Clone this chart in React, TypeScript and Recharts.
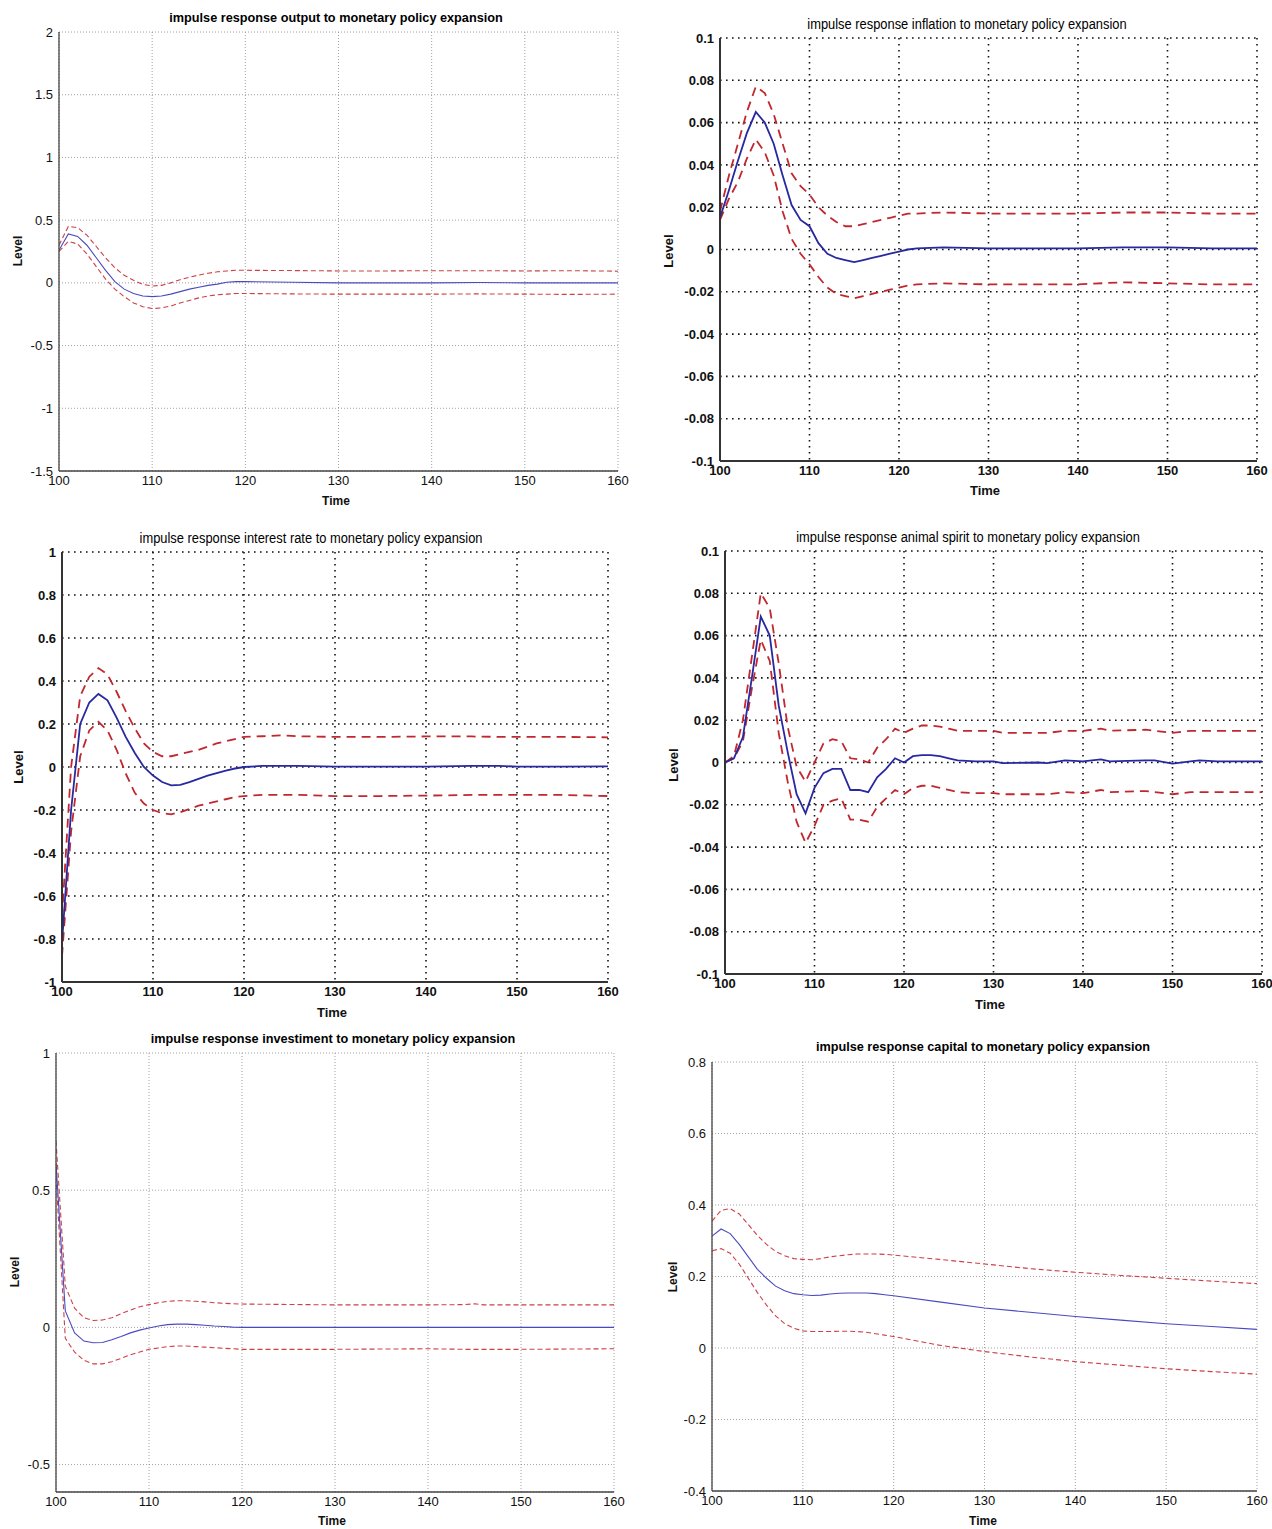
import React from 'react';
import { LineChart, Line, XAxis, YAxis, CartesianGrid } from 'recharts';

const xTicks = [100, 110, 120, 130, 140, 150, 160];

// Panel 1: output
const outputX = [100,101,102,103,104,105,106,107,108,109,110,111,112,113,114,115,116,117,118,119,120,125,130,135,140,145,150,155,160];
const outputMid = [0.26,0.39,0.37,0.30,0.20,0.10,0.01,-0.05,-0.085,-0.105,-0.11,-0.105,-0.09,-0.07,-0.05,-0.035,-0.02,-0.01,0.005,0.01,0.01,0.005,0,0,0,0.003,0,0,0];
const outputHi = [0.30,0.45,0.44,0.38,0.29,0.20,0.12,0.06,0.02,-0.012,-0.025,-0.02,0.0,0.025,0.045,0.062,0.077,0.088,0.095,0.1,0.1,0.098,0.095,0.095,0.097,0.097,0.095,0.097,0.093];
const outputLo = [0.25,0.33,0.31,0.23,0.13,0.03,-0.05,-0.11,-0.16,-0.19,-0.205,-0.2,-0.185,-0.16,-0.14,-0.12,-0.105,-0.095,-0.09,-0.085,-0.085,-0.088,-0.09,-0.09,-0.09,-0.088,-0.09,-0.092,-0.09];
const outputYTicks = [-1.5, -1, -0.5, 0, 0.5, 1, 1.5, 2];

// Panel 2: inflation
const inflX = [100,101,102,103,104,105,106,107,108,109,110,111,112,113,114,115,116,117,118,119,120,121,122,125,130,135,140,145,150,155,160];
const inflMid = [0.015,0.028,0.042,0.055,0.065,0.06,0.05,0.035,0.021,0.014,0.011,0.003,-0.002,-0.004,-0.005,-0.006,-0.005,-0.004,-0.003,-0.002,-0.001,0.0,0.0005,0.001,0.0005,0.0005,0.0005,0.001,0.001,0.0005,0.0005];
const inflHi = [0.018,0.035,0.05,0.065,0.077,0.074,0.064,0.05,0.036,0.03,0.026,0.02,0.016,0.013,0.011,0.011,0.012,0.013,0.014,0.015,0.016,0.017,0.017,0.0175,0.017,0.017,0.017,0.0175,0.0175,0.017,0.017];
const inflLo = [0.014,0.024,0.032,0.043,0.052,0.046,0.035,0.018,0.005,-0.002,-0.007,-0.013,-0.018,-0.021,-0.022,-0.023,-0.022,-0.021,-0.02,-0.019,-0.018,-0.017,-0.0165,-0.016,-0.0165,-0.0165,-0.0165,-0.0155,-0.016,-0.0165,-0.0165];
const inflYTicks = [-0.1, -0.08, -0.06, -0.04, -0.02, 0, 0.02, 0.04, 0.06, 0.08, 0.1];

// Panel 3: interest rate
const rateX = [100,101,102,103,104,105,106,107,108,109,110,111,112,113,114,115,116,117,118,119,120,122,124,126,130,135,140,145,148,150,155,160];
const rateMid = [-0.82,-0.2,0.2,0.3,0.34,0.31,0.23,0.14,0.065,0.0,-0.04,-0.07,-0.085,-0.083,-0.07,-0.055,-0.04,-0.028,-0.017,-0.007,0.0,0.005,0.005,0.005,0.002,0.002,0.002,0.005,0.005,0.002,0.002,0.003];
const rateHi = [-0.7,0.0,0.33,0.42,0.46,0.43,0.35,0.26,0.18,0.11,0.07,0.05,0.05,0.06,0.07,0.08,0.095,0.11,0.12,0.13,0.14,0.143,0.147,0.143,0.14,0.14,0.142,0.142,0.14,0.14,0.14,0.138];
const rateLo = [-0.88,-0.3,0.05,0.17,0.21,0.17,0.08,-0.03,-0.12,-0.17,-0.2,-0.215,-0.22,-0.21,-0.195,-0.18,-0.17,-0.16,-0.15,-0.14,-0.135,-0.13,-0.13,-0.13,-0.135,-0.135,-0.133,-0.13,-0.13,-0.13,-0.13,-0.135];
const rateYTicks = [-1, -0.8, -0.6, -0.4, -0.2, 0, 0.2, 0.4, 0.6, 0.8, 1];

// Panel 4: animal spirit
const spiritX = [100,101,102,103,104,105,106,107,108,109,110,111,112,113,114,115,116,117,118,119,120,121,122,123,124,125,126,128,130,131,135,136,138,140,142,143,147,148,150,152,153,155,160];
const spiritMid = [0.0,0.002,0.012,0.04,0.069,0.06,0.027,0.005,-0.015,-0.024,-0.012,-0.005,-0.003,-0.003,-0.013,-0.013,-0.014,-0.007,-0.003,0.002,0.0,0.003,0.0035,0.0035,0.003,0.002,0.001,0.0005,0.0005,-0.0003,0.0,-0.0003,0.001,0.0005,0.0015,0.0005,0.001,0.001,-0.0005,0.0005,0.001,0.0005,0.0005];
const spiritHi = [0.0,0.003,0.02,0.05,0.08,0.073,0.047,0.017,-0.002,-0.009,0.0,0.009,0.011,0.01,0.002,0.0015,0.0,0.007,0.011,0.016,0.014,0.016,0.0175,0.0175,0.017,0.016,0.015,0.015,0.015,0.014,0.014,0.014,0.015,0.015,0.016,0.015,0.0155,0.015,0.014,0.015,0.015,0.015,0.015];
const spiritLo = [0.0,0.002,0.01,0.035,0.058,0.048,0.014,-0.009,-0.028,-0.038,-0.03,-0.02,-0.018,-0.017,-0.027,-0.027,-0.028,-0.021,-0.017,-0.013,-0.015,-0.012,-0.011,-0.011,-0.012,-0.013,-0.014,-0.0145,-0.0145,-0.015,-0.015,-0.015,-0.014,-0.0145,-0.013,-0.014,-0.0135,-0.014,-0.015,-0.014,-0.014,-0.014,-0.014];
const spiritYTicks = [-0.1, -0.08, -0.06, -0.04, -0.02, 0, 0.02, 0.04, 0.06, 0.08, 0.1];

// Panel 5: investment
const investX = [100,101,102,103,104,105,106,107,108,109,110,111,112,113,114,115,116,117,118,119,120,130,140,144,145,146,150,160];
const investMid = [0.6,0.06,-0.02,-0.05,-0.056,-0.055,-0.045,-0.033,-0.02,-0.01,-0.002,0.005,0.01,0.012,0.012,0.01,0.008,0.005,0.003,0.001,0.0,0,0,0,0,0,0,0];
const investHi = [0.68,0.15,0.07,0.035,0.025,0.027,0.035,0.05,0.063,0.075,0.083,0.09,0.095,0.097,0.097,0.095,0.093,0.09,0.088,0.086,0.085,0.082,0.082,0.083,0.086,0.082,0.082,0.082];
const investLo = [0.55,-0.04,-0.09,-0.12,-0.133,-0.133,-0.125,-0.113,-0.1,-0.09,-0.08,-0.075,-0.07,-0.068,-0.068,-0.07,-0.072,-0.074,-0.076,-0.078,-0.08,-0.08,-0.078,-0.08,-0.08,-0.08,-0.08,-0.078];
const investYTicks = [-0.5, 0, 0.5, 1];

// Panel 6: capital
const capX = [100,101,102,103,104,105,106,107,108,109,110,111,112,113,114,115,116,117,118,119,120,125,130,135,140,145,150,155,160];
const capMid = [0.313,0.333,0.32,0.29,0.255,0.22,0.195,0.173,0.16,0.152,0.149,0.147,0.148,0.151,0.153,0.154,0.154,0.154,0.152,0.149,0.146,0.129,0.112,0.1,0.088,0.078,0.068,0.06,0.052];
const capHi = [0.355,0.385,0.39,0.375,0.345,0.315,0.29,0.27,0.258,0.25,0.248,0.247,0.25,0.255,0.258,0.261,0.263,0.263,0.263,0.262,0.26,0.248,0.235,0.222,0.212,0.203,0.195,0.187,0.18];
const capLo = [0.272,0.278,0.265,0.235,0.195,0.155,0.12,0.09,0.068,0.055,0.048,0.046,0.046,0.046,0.047,0.047,0.046,0.044,0.04,0.036,0.032,0.008,-0.01,-0.025,-0.038,-0.048,-0.058,-0.066,-0.073];
const capYTicks = [-0.4, -0.2, 0, 0.2, 0.4, 0.6, 0.8];

type Row = { x: number; mid: number; hi: number; lo: number };
const build = (x: number[], mid: number[], hi: number[], lo: number[]): Row[] =>
  x.map((v, i) => ({ x: v, mid: mid[i], hi: hi[i], lo: lo[i] }));

const SANS = '"Liberation Sans", Arial, Helvetica, sans-serif';

const STYLES: Record<string, any> = {
  thin: {
    tickSize: 13, tickWeight: 400, titleSize: 12.7, titleWeight: 700, titleScale: 1, labelSize: 12, labelWeight: 700,
    grid: '#8a8a8a', gridDash: '1 2', gridWidth: 0.8, axis: '#444', axisWidth: 1.3,
    blue: '#4a4ac0', blueWidth: 1.1, red: '#cc4048', redWidth: 1.1, redDash: '5 3',
  },
  bold: {
    tickSize: 13, tickWeight: 700, titleSize: 14, titleWeight: 400, titleScale: 0.92, labelSize: 13, labelWeight: 700,
    grid: '#111', gridDash: '1.6 4.4', gridWidth: 1.6, axis: '#333', axisWidth: 2,
    blue: '#2828a0', blueWidth: 1.8, red: '#c0282e', redWidth: 1.8, redDash: '9 6',
  },
};

type Cfg = {
  title: string; data: Row[]; yTicks: number[]; yDomain: [number, number]; style: string;
  L: number; T: number; R: number; B: number;
  titleX: number; titleY: number; timeX: number; timeY: number; levelX: number; levelY: number;
};

const PANELS: Cfg[] = [
  { title: 'impulse response output to monetary policy expansion', data: build(outputX, outputMid, outputHi, outputLo),
    yTicks: outputYTicks, yDomain: [-1.5, 2], style: 'thin', L: 59, T: 32, R: 618, B: 471,
    titleX: 336, titleY: 18, timeX: 336, timeY: 501, levelX: 18, levelY: 251 },
  { title: 'impulse response inflation to monetary policy expansion', data: build(inflX, inflMid, inflHi, inflLo),
    yTicks: inflYTicks, yDomain: [-0.1, 0.1], style: 'bold', L: 720, T: 38, R: 1257, B: 461,
    titleX: 967, titleY: 24, timeX: 985, timeY: 490, levelX: 668, levelY: 251 },
  { title: 'impulse response interest rate to monetary policy expansion', data: build(rateX, rateMid, rateHi, rateLo),
    yTicks: rateYTicks, yDomain: [-1, 1], style: 'bold', L: 62, T: 552, R: 608, B: 982,
    titleX: 311, titleY: 538, timeX: 332, timeY: 1012, levelX: 18, levelY: 767 },
  { title: 'impulse response animal spirit to monetary policy expansion', data: build(spiritX, spiritMid, spiritHi, spiritLo),
    yTicks: spiritYTicks, yDomain: [-0.1, 0.1], style: 'bold', L: 725, T: 551, R: 1262, B: 974,
    titleX: 968, titleY: 537, timeX: 990, timeY: 1004, levelX: 673, levelY: 765 },
  { title: 'impulse response investiment to monetary policy expansion', data: build(investX, investMid, investHi, investLo),
    yTicks: investYTicks, yDomain: [-0.6, 1], style: 'thin', L: 56, T: 1053, R: 614, B: 1492,
    titleX: 333, titleY: 1039, timeX: 332, timeY: 1521, levelX: 15, levelY: 1272 },
  { title: 'impulse response capital to monetary policy expansion', data: build(capX, capMid, capHi, capLo),
    yTicks: capYTicks, yDomain: [-0.4, 0.8], style: 'thin', L: 712, T: 1062, R: 1257, B: 1491,
    titleX: 983, titleY: 1047, timeX: 983, timeY: 1521, levelX: 673, levelY: 1277 },
];

const mL = 60, mT = 10, mR = 14, mB = 30;

function Panel({ cfg }: { cfg: Cfg }) {
  const s = STYLES[cfg.style];
  const w = cfg.R - cfg.L + mL + mR;
  const h = cfg.B - cfg.T + mT + mB;
  const tick = { fontFamily: SANS, fontSize: s.tickSize, fontWeight: s.tickWeight, fill: '#111' };
  const textBase: React.CSSProperties = {
    position: 'absolute', whiteSpace: 'nowrap', fontFamily: SANS, color: '#111', lineHeight: 1,
  };
  return (
    <>
      <div style={{ position: 'absolute', left: cfg.L - mL, top: cfg.T - mT, width: w, height: h }}>
        <LineChart width={w} height={h} data={cfg.data} margin={{ top: mT, right: mR, left: 0, bottom: 0 }}>
          <CartesianGrid stroke={s.grid} strokeDasharray={s.gridDash} strokeWidth={s.gridWidth} />
          <XAxis type="number" dataKey="x" domain={[100, 160]} ticks={xTicks} interval={0} height={mB}
            tickLine={false} tickSize={0} tickMargin={5} allowDataOverflow
            axisLine={{ stroke: s.axis, strokeWidth: s.axisWidth }} tick={tick} />
          <YAxis type="number" domain={cfg.yDomain} ticks={cfg.yTicks} interval={0} width={mL}
            tickLine={false} tickSize={0} tickMargin={6} allowDataOverflow
            axisLine={{ stroke: s.axis, strokeWidth: s.axisWidth }} tick={tick} />
          <Line type="linear" dataKey="hi" stroke={s.red} strokeWidth={s.redWidth} strokeDasharray={s.redDash}
            dot={false} activeDot={false} isAnimationActive={false} />
          <Line type="linear" dataKey="lo" stroke={s.red} strokeWidth={s.redWidth} strokeDasharray={s.redDash}
            dot={false} activeDot={false} isAnimationActive={false} />
          <Line type="linear" dataKey="mid" stroke={s.blue} strokeWidth={s.blueWidth}
            dot={false} activeDot={false} isAnimationActive={false} />
        </LineChart>
      </div>
      <div style={{ ...textBase, left: cfg.titleX, top: cfg.titleY,
        transform: `translate(-50%, -50%) scaleX(${s.titleScale})`,
        fontSize: s.titleSize, fontWeight: s.titleWeight, color: '#000' }}>{cfg.title}</div>
      <div style={{ ...textBase, left: cfg.timeX, top: cfg.timeY, transform: 'translate(-50%, -50%)',
        fontSize: s.labelSize, fontWeight: s.labelWeight }}>Time</div>
      <div style={{ ...textBase, left: cfg.levelX, top: cfg.levelY, transform: 'translate(-50%, -50%) rotate(-90deg)',
        fontSize: s.labelSize, fontWeight: s.labelWeight }}>Level</div>
    </>
  );
}

export default function App() {
  return (
    <div style={{ position: 'absolute', left: 0, top: 0, width: 1272, height: 1529, background: '#fff', overflow: 'hidden' }}>
      {PANELS.map((p, i) => <Panel key={i} cfg={p} />)}
    </div>
  );
}
